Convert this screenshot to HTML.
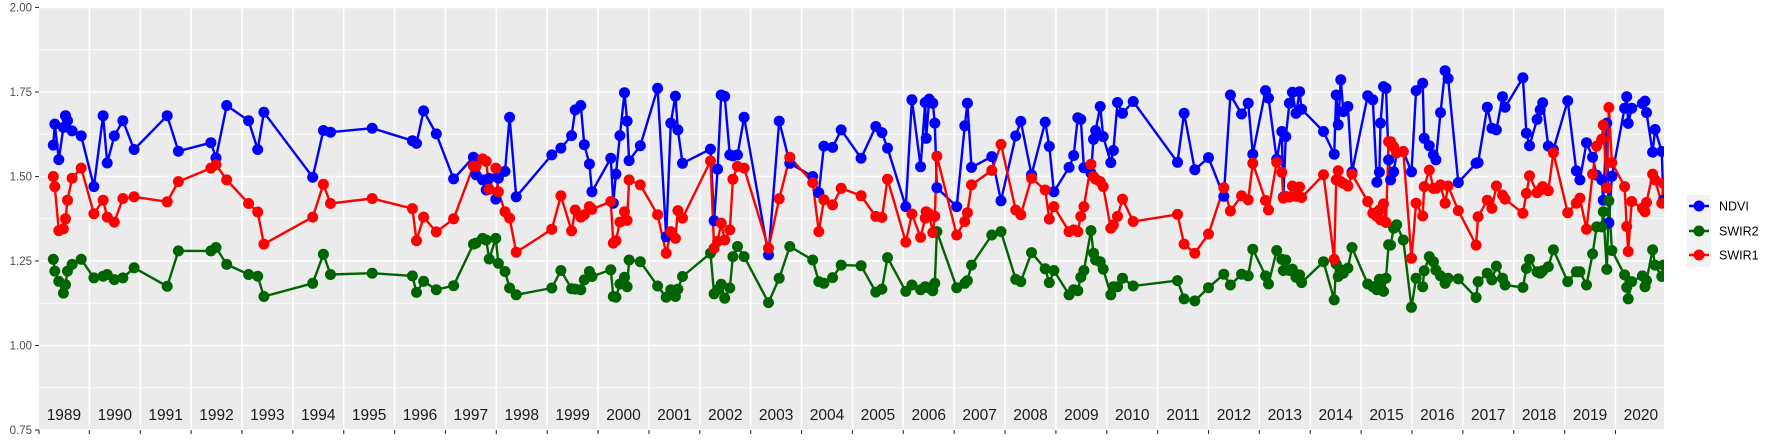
<!DOCTYPE html>
<html><head><meta charset="utf-8"><style>
html,body{margin:0;padding:0;background:#fff;}
svg{display:block;font-family:"Liberation Sans",sans-serif;}
</style></head><body>
<svg id="chart" width="1773" height="442" viewBox="0 0 1773 442" xmlns="http://www.w3.org/2000/svg">
<defs><clipPath id="pc"><rect x="39" y="7" width="1625" height="423"/></clipPath></defs>
<rect x="39" y="7" width="1625" height="423" fill="#ebebeb"/>
<g id="grid"></g>
<g id="yaxis"></g>
<g id="xaxis"></g>
<g id="series" clip-path="url(#pc)"></g>
<g>
<rect x="1687" y="195" width="24" height="72" fill="#f2f2f2"/>
<g><line x1="1689" x2="1709" y1="206" y2="206" stroke="#0000ff" stroke-width="2.5"/><circle cx="1699" cy="206" r="5.5" fill="#0000ff"/><text x="1719" y="210.5" font-size="12.5" fill="#000">NDVI</text></g>
<g><line x1="1689" x2="1709" y1="231" y2="231" stroke="#006400" stroke-width="2.5"/><circle cx="1699" cy="231" r="5.5" fill="#006400"/><text x="1719" y="235.5" font-size="12.5" fill="#000">SWIR2</text></g>
<g><line x1="1689" x2="1709" y1="255" y2="255" stroke="#ff0000" stroke-width="2.5"/><circle cx="1699" cy="255" r="5.5" fill="#ff0000"/><text x="1719" y="259.5" font-size="12.5" fill="#000">SWIR1</text></g>
</g>
</svg>
<script>
const dates=[1989.29,1989.32,1989.40,1989.49,1989.53,1989.57,1989.66,1989.84,1990.09,1990.27,1990.35,1990.49,1990.66,1990.88,1991.53,1991.75,1992.39,1992.49,1992.70,1993.13,1993.31,1993.43,
1994.39,1994.60,1994.74,1995.56,1996.35,1996.43,1996.57,1996.82,1997.16,1997.55,1997.60,1997.73,1997.80,1997.86,1997.99,1998.04,1998.17,1998.26,1998.39,
1999.09,1999.27,1999.48,1999.55,1999.66,1999.73,1999.83,1999.88,2000.25,2000.30,2000.35,2000.43,2000.52,2000.57,2000.61,2000.83,2001.17,2001.34,2001.43,2001.52,2001.57,2001.66,2002.21,2002.28,2002.35,2002.42,
2002.49,2002.59,2002.65,2002.74,2002.87,2003.35,2003.56,2003.77,2004.22,2004.34,2004.44,2004.61,2004.78,2005.17,2005.46,2005.58,2005.69,2006.05,2006.17,2006.34,2006.43,2006.45,2006.51,2006.58,2006.62,2006.66,
2007.05,2007.21,2007.26,2007.34,2007.74,2007.92,2008.21,2008.31,2008.52,2008.79,2008.87,2008.96,2009.26,2009.35,2009.43,2009.49,2009.55,2009.69,2009.74,2009.78,2009.87,2009.93,2010.08,2010.13,2010.21,2010.31,2010.52,
2011.39,2011.52,2011.73,2012.00,2012.30,2012.43,2012.65,2012.78,2012.87,2013.12,2013.18,2013.34,2013.44,2013.47,2013.52,2013.59,2013.65,2013.72,2013.79,2013.83,2014.26,2014.47,2014.51,2014.55,2014.60,2014.65,2014.74,2014.82,
2015.13,2015.23,2015.31,2015.36,2015.38,2015.44,2015.49,2015.54,2015.58,2015.64,2015.70,2015.83,2015.99,2016.08,2016.21,2016.24,2016.34,2016.42,2016.47,2016.56,2016.65,2016.71,2016.91,
2017.26,2017.30,2017.48,2017.57,2017.66,2017.78,2017.83,2018.18,2018.25,2018.31,2018.46,2018.52,2018.57,2018.68,2018.78,2019.06,2019.23,2019.30,2019.43,2019.55,2019.63,2019.73,2019.76,2019.83,2019.87,2019.93,
2020.18,2020.22,2020.25,2020.32,2020.53,2020.58,2020.61,2020.73,2020.78,2020.91,2020.94];
const ndvi=[1.593,1.655,1.55,1.645,1.68,1.665,1.635,1.62,1.47,1.68,1.54,1.62,1.665,1.58,1.68,1.575,1.60,1.555,1.71,1.665,1.58,1.69,
1.498,1.636,1.631,1.643,1.606,1.598,1.694,1.626,1.493,1.557,1.505,1.49,1.46,1.495,1.433,1.495,1.515,1.675,1.44,
1.564,1.584,1.621,1.697,1.71,1.594,1.537,1.455,1.554,1.421,1.507,1.621,1.748,1.664,1.547,1.591,1.761,1.322,1.658,1.738,1.638,1.539,1.581,1.369,1.522,1.741,
1.737,1.564,1.561,1.564,1.675,1.268,1.664,1.539,1.50,1.452,1.59,1.586,1.638,1.554,1.648,1.63,1.584,1.411,1.727,1.529,1.719,1.613,1.729,1.717,1.658,1.467,
1.411,1.65,1.717,1.527,1.559,1.428,1.62,1.663,1.505,1.661,1.589,1.455,1.527,1.562,1.674,1.669,1.526,1.51,1.61,1.636,1.707,1.618,1.541,1.577,1.719,1.687,1.722,
1.542,1.687,1.52,1.556,1.441,1.741,1.685,1.717,1.566,1.754,1.732,1.551,1.633,1.439,1.618,1.717,1.749,1.687,1.751,1.699,1.633,1.566,1.741,1.653,1.786,1.692,1.707,1.513,
1.739,1.727,1.483,1.513,1.658,1.766,1.761,1.549,1.49,1.514,1.57,1.574,1.514,1.754,1.776,1.613,1.591,1.564,1.549,1.689,1.813,1.79,1.482,
1.539,1.541,1.705,1.643,1.638,1.736,1.705,1.792,1.628,1.591,1.669,1.697,1.718,1.59,1.58,1.724,1.517,1.49,1.60,1.557,1.504,1.49,1.43,1.658,1.363,1.501,
1.702,1.736,1.657,1.702,1.716,1.723,1.689,1.572,1.639,1.574,1.43];
const swir2=[1.255,1.22,1.19,1.155,1.18,1.22,1.24,1.255,1.20,1.205,1.21,1.195,1.20,1.23,1.175,1.28,1.28,1.29,1.24,1.21,1.205,1.145,
1.184,1.27,1.21,1.214,1.206,1.157,1.19,1.165,1.177,1.30,1.303,1.317,1.312,1.256,1.317,1.243,1.219,1.17,1.15,
1.17,1.222,1.168,1.167,1.165,1.194,1.219,1.204,1.224,1.145,1.143,1.182,1.202,1.174,1.253,1.248,1.176,1.143,1.165,1.145,1.167,1.204,1.273,1.153,1.165,1.181,
1.14,1.17,1.263,1.293,1.263,1.127,1.199,1.293,1.253,1.189,1.184,1.201,1.238,1.236,1.158,1.167,1.26,1.16,1.179,1.165,1.174,1.172,1.17,1.162,1.184,1.337,
1.171,1.184,1.192,1.238,1.327,1.337,1.196,1.189,1.275,1.227,1.186,1.222,1.15,1.165,1.162,1.202,1.222,1.34,1.273,1.253,1.248,1.226,1.15,1.174,1.174,1.199,1.176,
1.192,1.138,1.132,1.171,1.211,1.179,1.211,1.206,1.285,1.206,1.182,1.281,1.255,1.222,1.253,1.222,1.226,1.202,1.209,1.186,1.248,1.135,1.241,1.204,1.224,1.214,1.229,1.29,
1.182,1.174,1.165,1.196,1.174,1.16,1.199,1.298,1.297,1.347,1.357,1.312,1.113,1.199,1.174,1.221,1.263,1.248,1.223,1.206,1.184,1.199,1.197,
1.142,1.189,1.214,1.194,1.235,1.199,1.179,1.172,1.228,1.255,1.218,1.214,1.221,1.233,1.283,1.189,1.218,1.218,1.179,1.271,1.351,1.351,1.396,1.225,1.428,1.281,
1.209,1.172,1.138,1.189,1.206,1.174,1.192,1.283,1.238,1.204,1.238];
const swir1=[1.50,1.47,1.34,1.345,1.375,1.43,1.495,1.525,1.39,1.43,1.38,1.365,1.435,1.44,1.425,1.485,1.525,1.535,1.49,1.42,1.395,1.30,
1.38,1.477,1.42,1.435,1.405,1.31,1.38,1.336,1.375,1.531,1.53,1.552,1.545,1.462,1.525,1.455,1.396,1.377,1.276,
1.344,1.443,1.339,1.401,1.38,1.387,1.411,1.403,1.426,1.303,1.31,1.365,1.396,1.37,1.49,1.475,1.387,1.273,1.337,1.317,1.399,1.377,1.546,1.288,1.308,1.362,
1.312,1.342,1.492,1.53,1.525,1.288,1.434,1.557,1.482,1.337,1.431,1.416,1.465,1.443,1.382,1.379,1.492,1.306,1.389,1.32,1.377,1.396,1.389,1.334,1.382,1.56,
1.327,1.367,1.393,1.475,1.518,1.595,1.401,1.387,1.495,1.46,1.374,1.411,1.337,1.342,1.337,1.382,1.411,1.536,1.50,1.492,1.485,1.47,1.347,1.357,1.382,1.433,1.367,
1.388,1.30,1.273,1.33,1.467,1.398,1.443,1.431,1.539,1.429,1.401,1.542,1.512,1.436,1.441,1.439,1.472,1.441,1.469,1.438,1.505,1.255,1.49,1.517,1.485,1.48,1.472,1.507,
1.426,1.391,1.382,1.401,1.372,1.419,1.364,1.603,1.603,1.588,1.57,1.574,1.258,1.421,1.383,1.47,1.519,1.465,1.465,1.475,1.421,1.472,1.399,
1.297,1.381,1.43,1.406,1.472,1.445,1.433,1.391,1.45,1.502,1.452,1.46,1.47,1.458,1.57,1.393,1.421,1.436,1.344,1.507,1.59,1.61,1.652,1.467,1.704,1.541,
1.47,1.352,1.278,1.426,1.406,1.396,1.423,1.507,1.49,1.421,1.48];
const yTicks=[0.75,1.00,1.25,1.50,1.75,2.00];
const yTickLabels=["0.75","1.00","1.25","1.50","1.75","2.00"];
const years=[1989,1990,1991,1992,1993,1994,1995,1996,1997,1998,1999,2000,2001,2002,2003,2004,2005,2006,2007,2008,2009,2010,2011,2012,2013,2014,2015,2016,2017,2018,2019,2020];

const NS="http://www.w3.org/2000/svg";
const X0=38.5, YW=50.87, L=39, R=1664, T=7, B=430;
function sx(t){return X0+(t-1989)*YW;}
function sy(v){return 7.5+(2-v)*338;}
function mk(tag,attrs,parent){const e=document.createElementNS(NS,tag);for(const k in attrs)e.setAttribute(k,attrs[k]);parent.appendChild(e);return e;}
const grid=document.getElementById('grid'),ya=document.getElementById('yaxis'),xa=document.getElementById('xaxis'),ser=document.getElementById('series');
// minor horizontal
for(let i=0;i<yTicks.length-1;i++){const v=(yTicks[i]+yTicks[i+1])/2;
 const g=mk('line',{x1:L,x2:R,y1:sy(v),y2:sy(v),stroke:'#fff','stroke-width':0.8},grid);
 
 }
yTicks.forEach((v,i)=>{
 const g=mk('line',{x1:L,x2:R,y1:sy(v),y2:sy(v),stroke:'#fff','stroke-width':1.6},grid);
 
 
 const tk=mk('line',{x1:35,x2:39,y1:sy(v),y2:sy(v),stroke:'#333','stroke-width':1.1},ya);
 
 
 const t=mk('text',{x:32,y:sy(v)+4,'text-anchor':'end','font-size':11.5,fill:'#4d4d4d'},ya);
 t.textContent=yTickLabels[i];
 
 
});
years.forEach((yr,i)=>{
 const x=sx(yr);
 if(x>L+1){const g=mk('line',{x1:x,x2:x,y1:T,y2:B,stroke:'#fff','stroke-width':1.6},grid);
  
  }
 const tk=mk('line',{x1:Math.max(x,L),x2:Math.max(x,L),y1:B,y2:B+4,stroke:'#333','stroke-width':1.1},xa);
 
 
 const t=mk('text',{x:sx(yr+0.5),y:420,'text-anchor':'middle','font-size':15.5,fill:'#1a1a1a'},xa);
 t.textContent=String(yr);
 
 
});
const series=[['ndvi',ndvi,'#0000ff'],['swir2',swir2,'#006400'],['swir1',swir1,'#ff0000']];
series.forEach(([n,vals,c])=>{
 const p=mk('polyline',{points:dates.map((d,i)=>sx(d).toFixed(1)+','+sy(vals[i]).toFixed(1)).join(' '),fill:'none',stroke:c,'stroke-width':2.4,'stroke-linejoin':'round'},ser);
 
 
});
series.forEach(([n,vals,c])=>{
 dates.forEach((d,i)=>{
  const ci=mk('circle',{cx:sx(d).toFixed(1),cy:sy(vals[i]).toFixed(1),r:5.5,fill:c},ser);
  
  
 });
});
</script>
</body></html>
